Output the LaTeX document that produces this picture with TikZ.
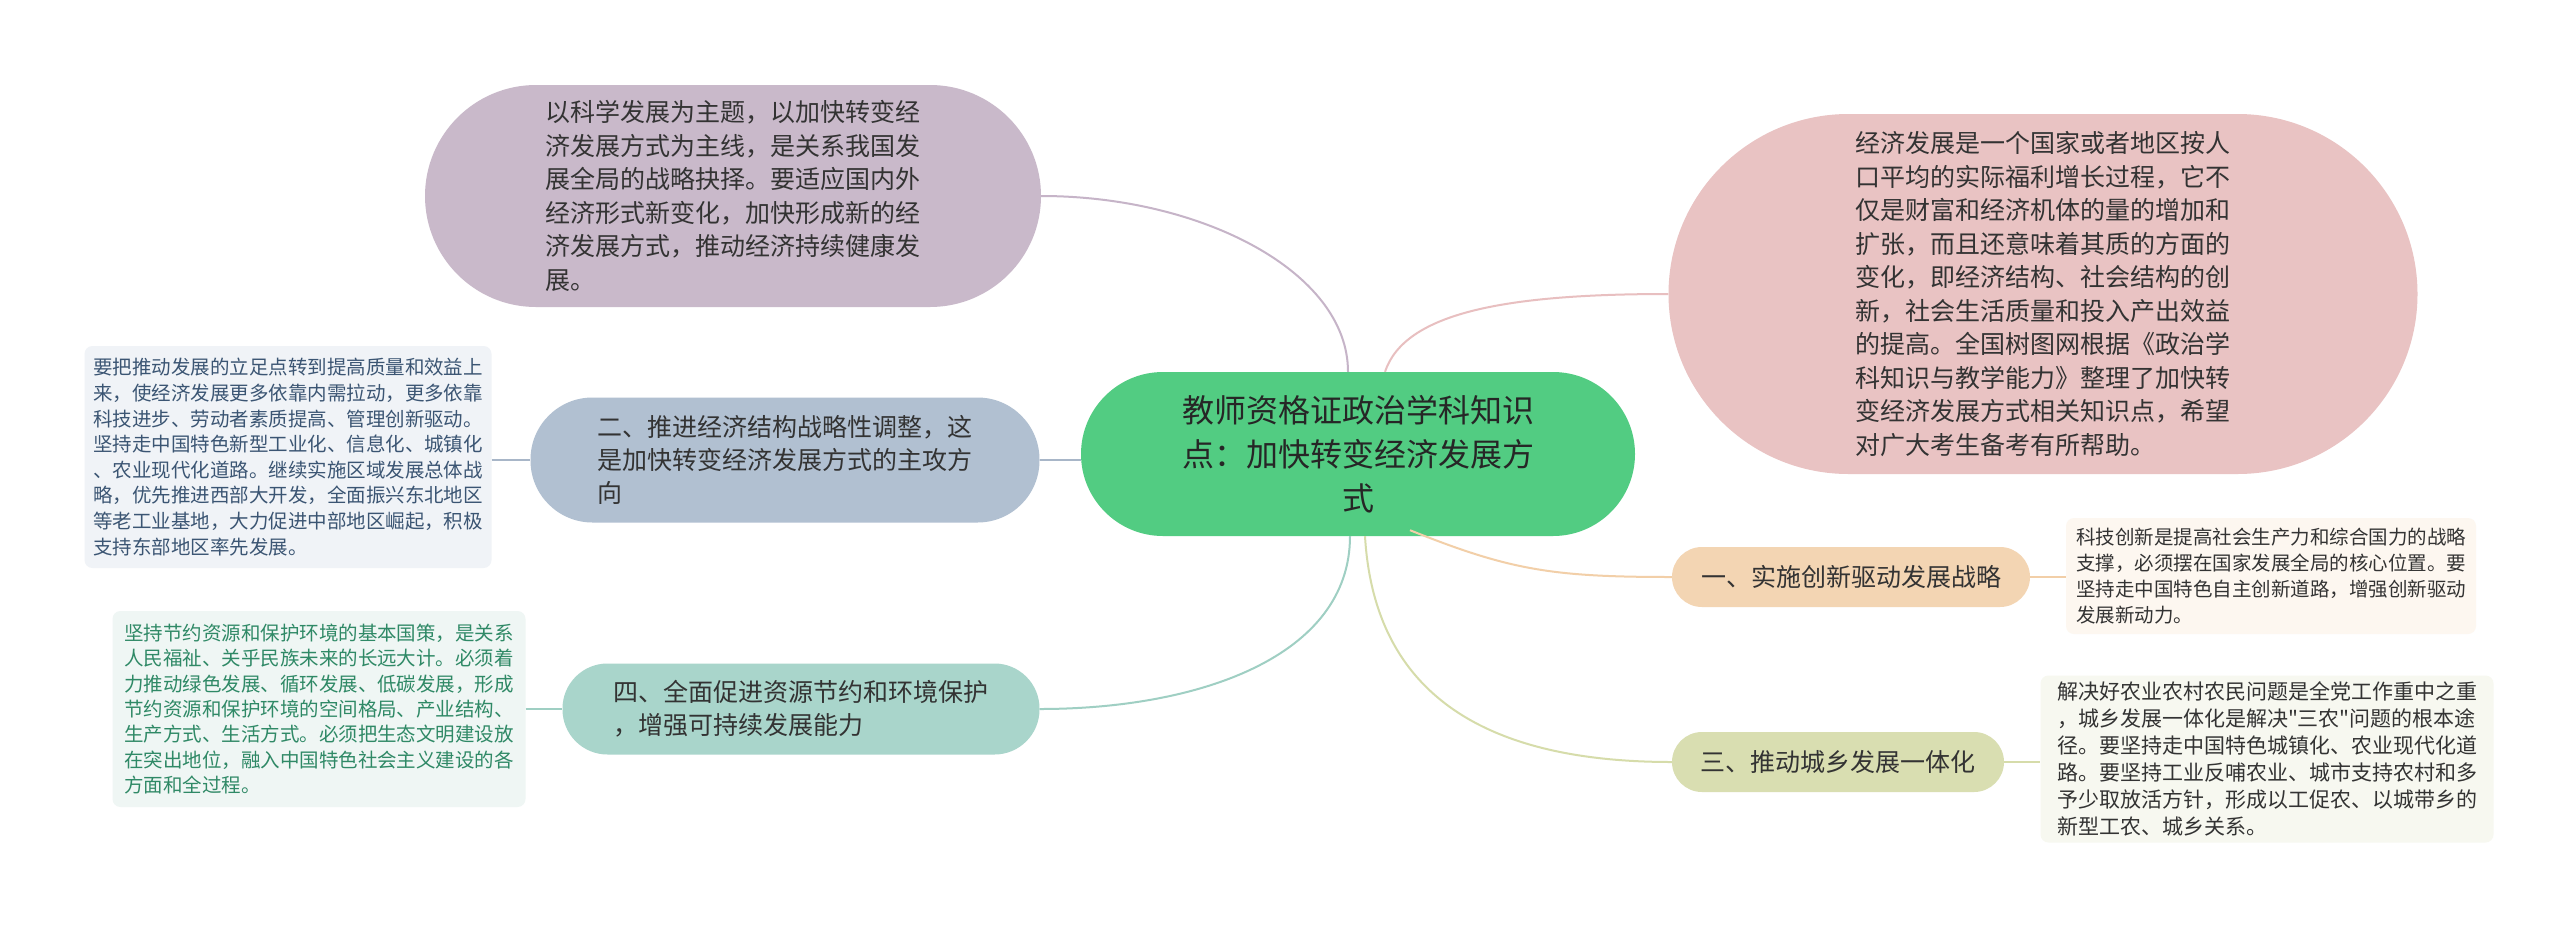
\documentclass[tikz,border=0pt]{standalone}
\usepackage{fontspec}
\setmainfont{Noto Sans CJK SC}[Ligatures=TeXOff]
\usetikzlibrary{calc}
\definecolor{cmain}{HTML}{52CC82}
\definecolor{cpur}{HTML}{C9B9CA}
\definecolor{cpink}{HTML}{E9C3C3}
\definecolor{ctwo}{HTML}{B1C0D1}
\definecolor{cfour}{HTML}{A9D5CB}
\definecolor{cone}{HTML}{F3D5B3}
\definecolor{cthree}{HTML}{D9DEB1}
\definecolor{ltwo}{HTML}{F0F3F7}
\definecolor{lfour}{HTML}{EFF6F4}
\definecolor{lone}{HTML}{FDF7F0}
\definecolor{lthree}{HTML}{F7F8F0}
\definecolor{ttwo}{HTML}{3B5573}
\definecolor{tfour}{HTML}{2F8966}
\definecolor{txt}{HTML}{333333}
\definecolor{lnpur}{HTML}{C6B4C8}
\definecolor{lnpink}{HTML}{E8BFC0}
\definecolor{lntwo}{HTML}{A8B6C8}
\definecolor{lnfour}{HTML}{9FCFC3}
\definecolor{lnone}{HTML}{F2CFA8}
\definecolor{lnthree}{HTML}{D6DCAA}
\begin{document}
\begin{tikzpicture}[x=1pt,y=-1pt,
  pill/.style={rectangle, inner sep=0pt, align=left, text=txt},
  leafbox/.style={rectangle, rounded corners=8pt, inner sep=0pt, align=left},
  conn/.style={line width=2pt}]
\useasboundingbox[fill=white] (0,0) rectangle (2560,930);

\node[pill, fill=cmain, minimum width=554pt, minimum height=164pt, rounded corners=82pt, align=center, text={black!85}, font=\fontsize{32}{44}\selectfont] (c) at (1358,454) {教师资格证政治学科知识\\点：加快转变经济发展方\\式};

\node[pill, fill=cpur, minimum width=616pt, minimum height=222pt, rounded corners=111pt, font=\fontsize{25}{33.5}\selectfont] (pur) at (733,196) {以科学发展为主题，以加快转变经\\济发展方式为主线，是关系我国发\\展全局的战略抉择。要适应国内外\\经济形式新变化，加快形成新的经\\济发展方式，推动经济持续健康发\\展。};

\node[pill, fill=cpink, minimum width=749pt, minimum height=360pt, rounded corners=180pt, font=\fontsize{25}{33.5}\selectfont] (pink) at (2043,294) {经济发展是一个国家或者地区按人\\口平均的实际福利增长过程，它不\\仅是财富和经济机体的量的增加和\\扩张，而且还意味着其质的方面的\\变化，即经济结构、社会结构的创\\新，社会生活质量和投入产出效益\\的提高。全国树图网根据《政治学\\科知识与教学能力》整理了加快转\\变经济发展方式相关知识点，希望\\对广大考生备考有所帮助。};

\node[pill, fill=ctwo, minimum width=509pt, minimum height=125pt, rounded corners=62pt, font=\fontsize{25}{33}\selectfont] (two) at (785,460) {二、推进经济结构战略性调整，这\\是加快转变经济发展方式的主攻方\\向};

\node[pill, fill=cfour, minimum width=477pt, minimum height=91pt, rounded corners=45pt, font=\fontsize{25}{33}\selectfont] (four) at (801,709) {四、全面促进资源节约和环境保护\\，增强可持续发展能力};

\node[pill, fill=cone, minimum width=358pt, minimum height=60pt, rounded corners=30pt, font=\fontsize{25}{33}\selectfont] (one) at (1851,577) {一、实施创新驱动发展战略};

\node[pill, fill=cthree, minimum width=332pt, minimum height=60pt, rounded corners=30pt, font=\fontsize{25}{33}\selectfont] (three) at (1838,762) {三、推动城乡发展一体化};

\node[leafbox, fill=ltwo, text=ttwo, minimum width=407pt, minimum height=222pt, font=\fontsize{19.5}{25.6}\selectfont] (ltwo) at (288,457) {要把推动发展的立足点转到提高质量和效益上\\来，使经济发展更多依靠内需拉动，更多依靠\\科技进步、劳动者素质提高、管理创新驱动。\\坚持走中国特色新型工业化、信息化、城镇化\\、农业现代化道路。继续实施区域发展总体战\\略，优先推进西部大开发，全面振兴东北地区\\等老工业基地，大力促进中部地区崛起，积极\\支持东部地区率先发展。};

\node[leafbox, fill=lfour, text=tfour, minimum width=413pt, minimum height=196pt, font=\fontsize{19.5}{25.3}\selectfont] (lfour) at (319,709) {坚持节约资源和保护环境的基本国策，是关系\\人民福祉、关乎民族未来的长远大计。必须着\\力推动绿色发展、循环发展、低碳发展，形成\\节约资源和保护环境的空间格局、产业结构、\\生产方式、生活方式。必须把生态文明建设放\\在突出地位，融入中国特色社会主义建设的各\\方面和全过程。};

\node[leafbox, fill=lone, text=txt, minimum width=410pt, minimum height=116pt, font=\fontsize{19.5}{26}\selectfont] (lone) at (2271,576) {科技创新是提高社会生产力和综合国力的战略\\支撑，必须摆在国家发展全局的核心位置。要\\坚持走中国特色自主创新道路，增强创新驱动\\发展新动力。};

\node[leafbox, fill=lthree, text=txt, minimum width=453pt, minimum height=167pt, font=\fontsize{21}{27}\selectfont] (lthree) at (2267,759) {解决好农业农村农民问题是全党工作重中之重\\，城乡发展一体化是解决"三农"问题的根本途\\径。要坚持走中国特色城镇化、农业现代化道\\路。要坚持工业反哺农业、城市支持农村和多\\予少取放活方针，形成以工促农、以城带乡的\\新型工农、城乡关系。};

% connectors
\draw[conn, lnpur] ($(c.north)+(-10,0)$) .. controls +(0,-100) and +(160,0) .. (pur.east);
\draw[conn, lnpink] ($(c.north)+(27,0)$) .. controls +(20,-60) and +(-160,0) .. (pink.west);
\draw[conn, lntwo] (c.west |- two.east) -- (two.east);
\draw[conn, lnfour] ($(c.south)+(-8,0)$) .. controls +(0,120) and +(160,0) .. (four.east);
\draw[conn, lnone] ($(c.south)+(52,-6)$) .. controls +(100,40) and +(-120,0) .. (one.west);
\draw[conn, lnthree] ($(c.south)+(7,0)$) .. controls +(10,170) and +(-170,0) .. (three.west);
\draw[conn, lntwo] (ltwo.east |- two.west) -- (two.west);
\draw[conn, lnfour] (lfour.east) -- (four.west);
\draw[conn, lnone] (one.east) -- (lone.west |- one.east);
\draw[conn, lnthree] (three.east) -- (lthree.west |- three.east);
\end{tikzpicture}
\end{document}
